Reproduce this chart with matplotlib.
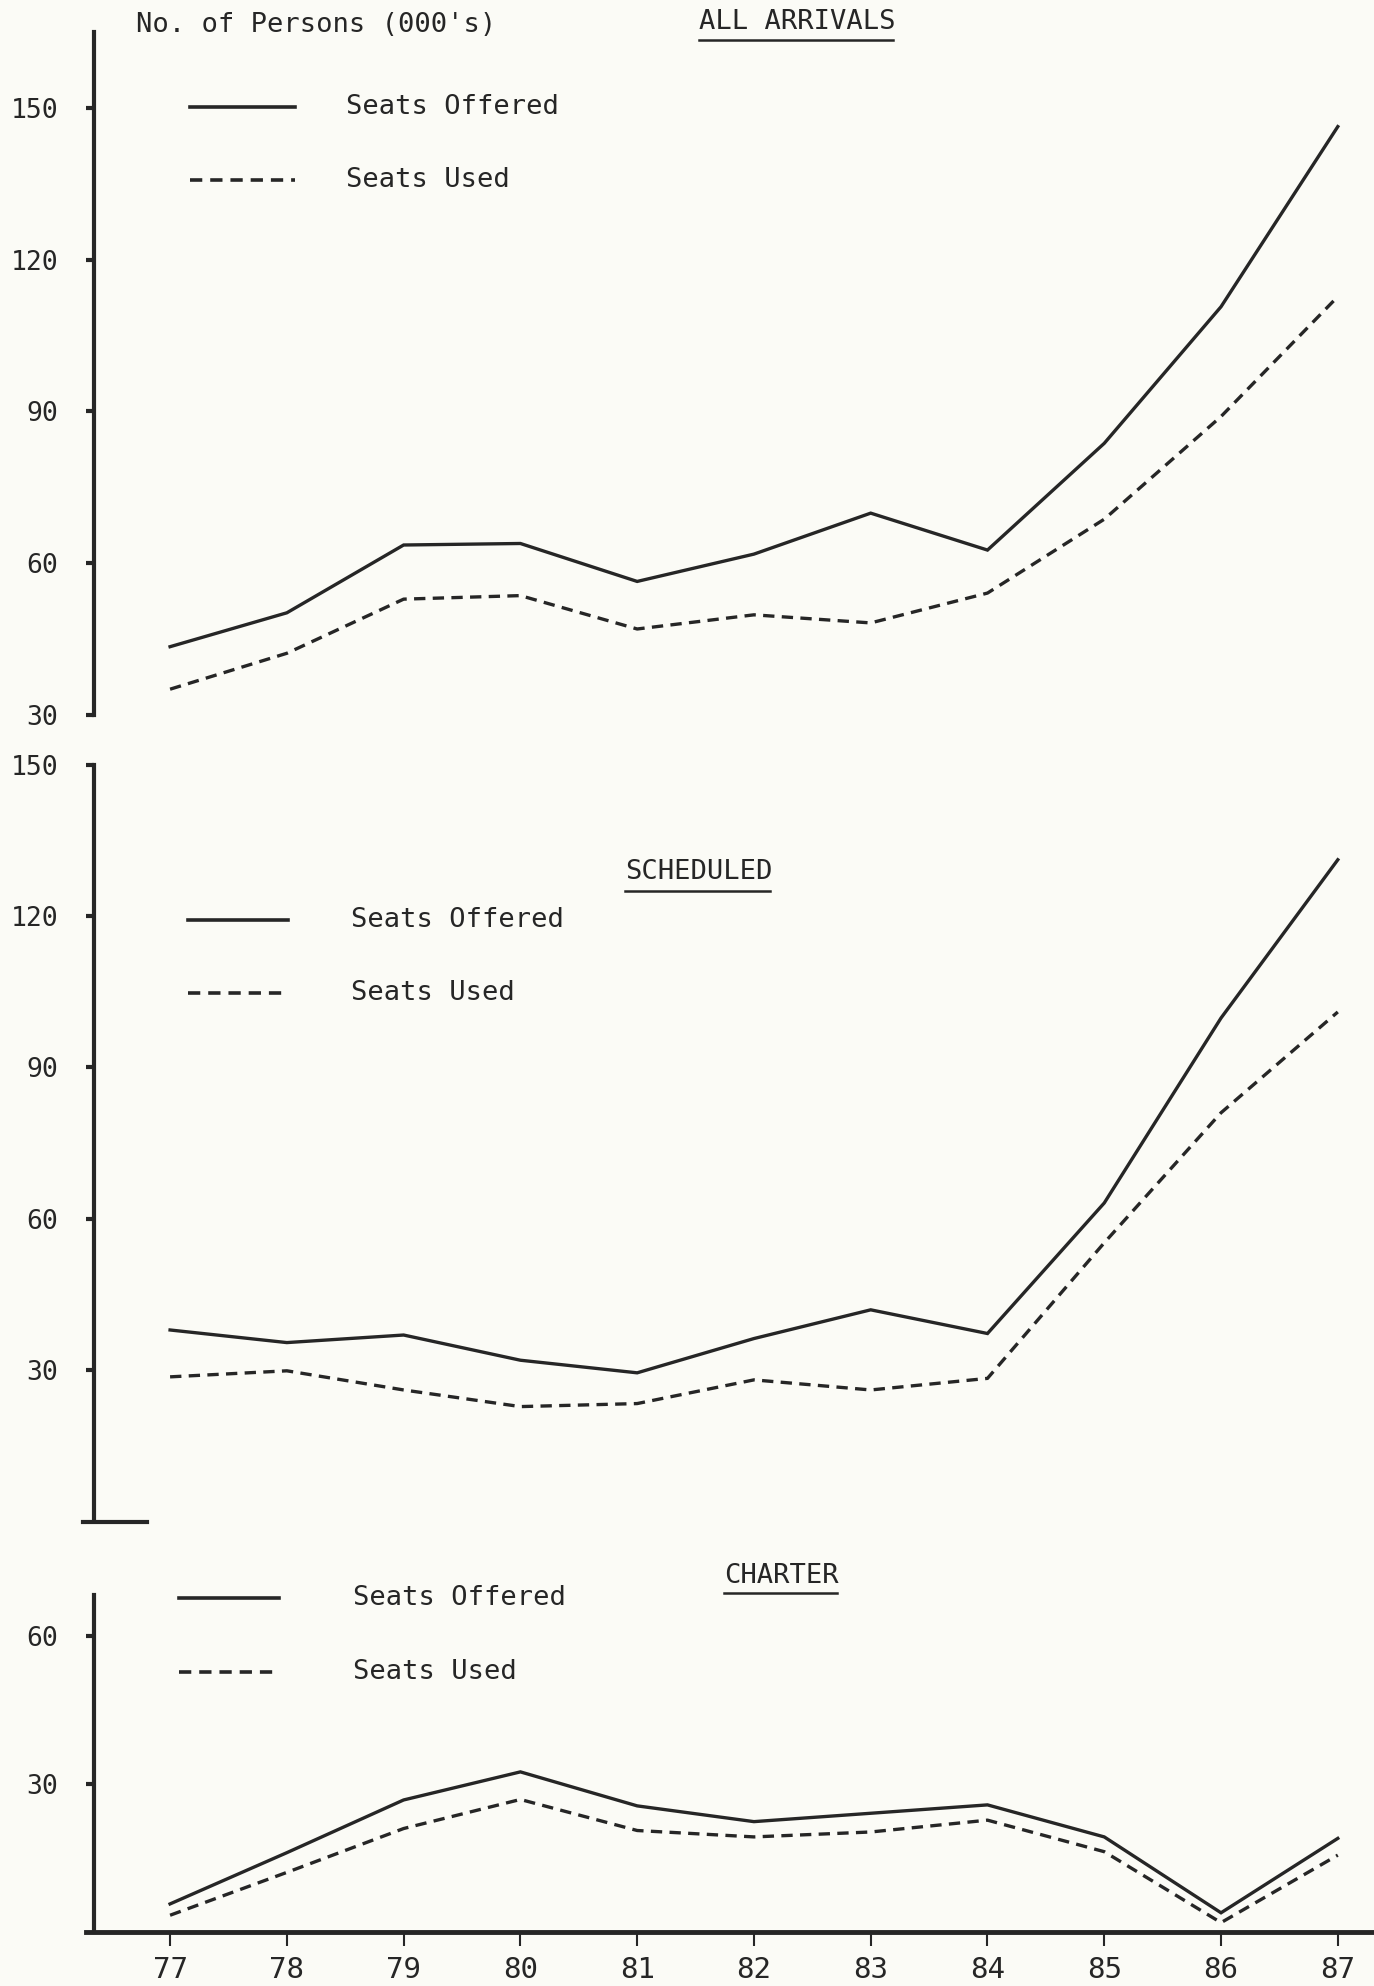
import matplotlib
matplotlib.use("Agg")
import matplotlib.pyplot as plt
from matplotlib.lines import Line2D

# values (thousands of persons)
years = [77, 78, 79, 80, 81, 82, 83, 84, 85, 86, 87]

all_offered = [43.5, 50.2, 63.6, 63.9, 56.4, 61.8, 69.9, 62.6, 83.7, 110.7, 146.3]
all_used = [35.1, 42.2, 52.9, 53.6, 47.0, 49.8, 48.2, 54.1, 68.7, 89.0, 112.7]

sched_offered = [37.9, 35.4, 36.9, 31.9, 29.4, 36.2, 41.9, 37.2, 63.1, 99.8, 131.2]
sched_used = [28.6, 29.8, 26.0, 22.7, 23.3, 28.0, 26.0, 28.3, 55.2, 81.0, 101.0]

charter_offered = [5.7, 16.1, 26.8, 32.5, 25.6, 22.4, 24.1, 25.8, 19.3, 3.9, 19.0]
charter_used = [3.4, 12.1, 21.0, 26.9, 20.6, 19.3, 20.3, 22.7, 16.3, 1.9, 15.6]

yticks_all = [30, 60, 90, 120, 150]
yticks_sched = [30, 60, 90, 120, 150]
yticks_charter = [30, 60]

W, H = 1374, 1986
ink = "#262626"
paper = "#fbfbf6"
plt.rcParams["font.family"] = ["DejaVu Sans Mono", "DejaVu Sans"]

fig = plt.figure(figsize=(W / 100, H / 100), dpi=100, facecolor=paper)


def fx(x):
    return x / W


def fy(y):
    return 1 - y / H


def box(y_top, y_bot, x0=86, x1=W):
    return [fx(x0), fy(y_bot), (x1 - x0) / W, (y_bot - y_top) / H]


xmin, xmax = 76.28, 87.31
spine_x = 76.35
dash = (3.4, 2.2)


def panel(rect, ylim, yt, offered, used):
    ax = fig.add_axes(rect)
    ax.set_facecolor("none")
    ax.plot(years, offered, color=ink, lw=2.4, solid_joinstyle="miter")
    ax.plot(years, used, color=ink, lw=2.4, linestyle=(0, dash))
    ax.set_xlim(xmin, xmax)
    ax.set_ylim(*ylim)
    for s in ["top", "right", "bottom"]:
        ax.spines[s].set_visible(False)
    ax.spines["left"].set_position(("data", spine_x))
    ax.spines["left"].set_linewidth(3)
    ax.spines["left"].set_color(ink)
    ax.set_yticks(yt)
    ax.set_yticklabels([str(v) for v in yt])
    ax.tick_params(axis="y", direction="out", length=6, width=3, color=ink,
                   labelsize=19, labelcolor=ink, pad=20)
    ax.set_xticks([])
    return ax


ax1 = panel(box(32, 715), (30, 165.0), yticks_all, all_offered, all_used)
ax2 = panel(box(765, 1521), (0, 150), yticks_sched, sched_offered, sched_used)
ax3 = panel(box(1595, 1932), (0, 68.4), yticks_charter, charter_offered, charter_used)

# x axis of the bottom panel
ax3.spines["bottom"].set_visible(True)
ax3.spines["bottom"].set_linewidth(3.5)
ax3.spines["bottom"].set_color(ink)
ax3.set_xticks(years)
ax3.set_xticklabels([str(y) for y in years])
ax3.tick_params(axis="x", direction="out", length=10, width=1.5, color=ink,
                labelsize=21, labelcolor=ink, pad=7)

# stub at the foot of the scheduled axis
fig.add_artist(Line2D([fx(83), fx(147)], [fy(1522), fy(1522)], color=ink, lw=3))


def txt(x, y, s, size=19.5):
    fig.text(fx(x), fy(y), s, fontsize=size, color=ink, ha="left", va="center")


def title(x0, x1, y, yline, s):
    txt(x0, y, s)
    fig.add_artist(Line2D([fx(x0), fx(x1)], [fy(yline), fy(yline)], color=ink, lw=1.8))


def legend(x0, x1, xt, y_off, y_used):
    fig.add_artist(Line2D([fx(x0), fx(x1)], [fy(y_off), fy(y_off)], color=ink, lw=2.6))
    fig.add_artist(Line2D([fx(x0), fx(x1)], [fy(y_used), fy(y_used)], color=ink, lw=2.6,
                          linestyle=(0, dash)))
    txt(xt, y_off, "Seats Offered")
    txt(xt, y_used, "Seats Used")


txt(136, 25, "No. of Persons (000's)")
title(699, 893, 22, 40, "ALL ARRIVALS")
legend(190, 295, 346, 107, 180)

title(625, 770, 872, 891, "SCHEDULED")
legend(188, 288, 351, 920, 993)

title(724, 837, 1576, 1593, "CHARTER")
legend(179, 279, 353, 1598, 1672)

fig.savefig("out.png", dpi=100, facecolor=paper)
